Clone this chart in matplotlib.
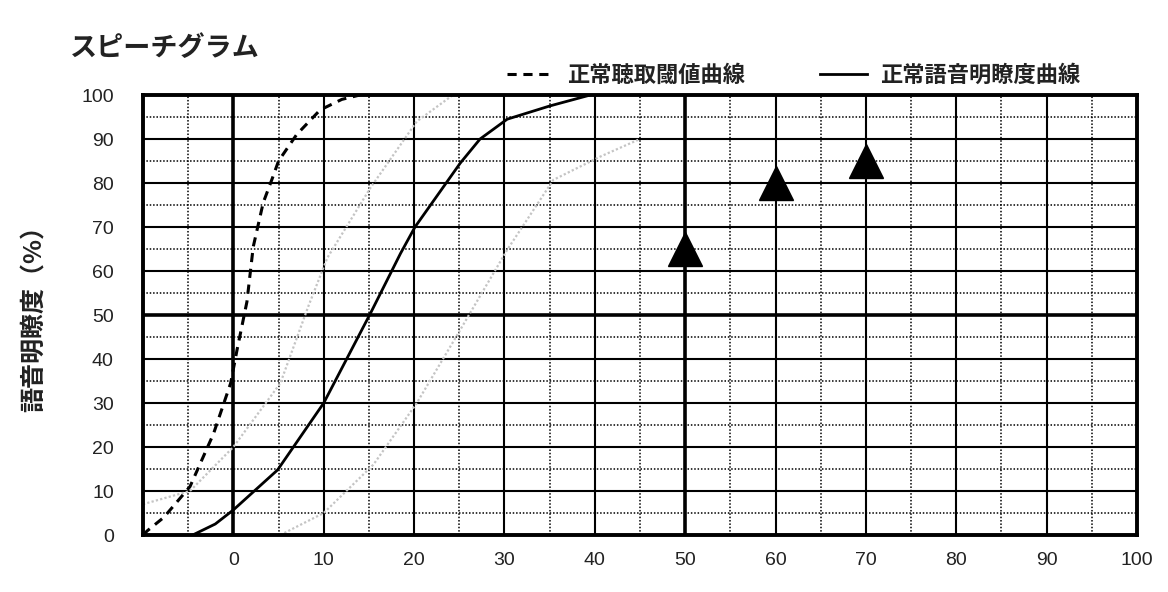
import numpy as np
import matplotlib
matplotlib.use('Agg')
import matplotlib.pyplot as plt

plt.rcParams['font.family'] = ['Noto Sans CJK JP', 'DejaVu Sans']

# 正常聴取閾値曲線 (dashed)
thr_x = [-10, -9.5, -7.7, -4.8, -2.2, -0.3, 0.4, 1.5, 2.2, 3.3, 4.3, 5.0, 7.0, 9.6, 12.0, 14.0]
thr_y = [0, 1, 4, 11, 23, 34.5, 42, 53, 65.5, 75.5, 81, 85, 91, 96.6, 99, 100]

# 正常語音明瞭度曲線 (solid)
sp_x = [-4.5, -2, 0, 4.9, 10, 15.2, 18.5, 20.1, 25.1, 27.3, 30.3, 35, 39.5]
sp_y = [0, 2.5, 5.7, 14.8, 30, 50.5, 64, 70, 84.5, 90, 94.5, 97.5, 100]

# gray dotted curves
ga_x = [-10, -4.8, 0, 5.2, 8.3, 10.4, 15.2, 20.3, 24.3]
ga_y = [7, 10, 20, 34.5, 52, 63, 79, 94, 100]
gb_x = [5.2, 10, 15.5, 20.3, 25.1, 30.3, 35.4, 40.6, 45]
gb_y = [0, 5, 16, 30, 46.6, 64.8, 80.7, 86, 90]

# measured points
pt_x = [50, 60, 70]
pt_y = [65, 80, 85]

x_ticks = list(range(0, 101, 10))
y_ticks = list(range(0, 101, 10))

fig = plt.figure(figsize=(11.68, 5.92), dpi=100)
ax = fig.add_axes([143 / 1168, 57 / 592, 994 / 1168, 440 / 592])
ax.set_xlim(-10, 100)
ax.set_ylim(0, 100)

# grid
for v in np.arange(-5, 100, 10):
    ax.axvline(v, color='black', lw=1.1, ls=(0, (1, 1.2)), zorder=1)
for v in np.arange(5, 100, 10):
    ax.axhline(v, color='black', lw=1.1, ls=(0, (1, 1.2)), zorder=1)
for v in range(0, 100, 10):
    ax.axvline(v, color='black', lw=2.6 if v in (0, 50) else 1.5, zorder=1)
for v in range(10, 100, 10):
    ax.axhline(v, color='black', lw=2.6 if v == 50 else 1.5, zorder=1)

ax.plot(ga_x, ga_y, color='#c4c4c4', lw=1.6, ls=(0, (1, 1)), zorder=2)
ax.plot(gb_x, gb_y, color='#c4c4c4', lw=1.6, ls=(0, (1, 1)), zorder=2)
ax.plot(thr_x, thr_y, color='black', lw=2.2, ls=(0, (3, 2.2)), zorder=3, label='正常聴取閾値曲線')
ax.plot(sp_x, sp_y, color='black', lw=2.0, zorder=3, label='正常語音明瞭度曲線')
ax.plot(pt_x, pt_y, ls='none', marker='^', ms=25, color='black', zorder=4)

for s in ax.spines.values():
    s.set_linewidth(2.8)
    s.set_zorder(5)

ax.set_xticks(x_ticks)
ax.set_yticks(y_ticks)
ax.set_xticklabels([str(t) for t in x_ticks], fontsize=14, family='Liberation Sans', color='#222222')
ax.set_yticklabels([str(t) for t in y_ticks], fontsize=14, family='Liberation Sans', color='#222222')
ax.tick_params(axis='x', length=0, pad=12)
ax.tick_params(axis='y', length=0, pad=21)

fig.text(35 / 1168, 1 - 313 / 592, '語音明瞭度（%）', rotation=90, fontsize=18,
         ha='center', va='center', fontweight='bold', color='#222222')
fig.text(70 / 1168, 1 - 48 / 592, 'スピーチグラム', fontsize=19.5, ha='left', va='center',
         fontweight='bold', color='#222222')

leg = ax.legend(loc='center right', bbox_to_anchor=(0.943, 1 + 20 / 440), ncol=2, frameon=False,
                handlelength=2.1, handletextpad=0.6, columnspacing=3.4, fontsize=16,
                borderpad=0, borderaxespad=0)
for t in leg.get_texts():
    t.set_fontweight('bold')
    t.set_color('#222222')

fig.savefig('out.png', dpi=100)
